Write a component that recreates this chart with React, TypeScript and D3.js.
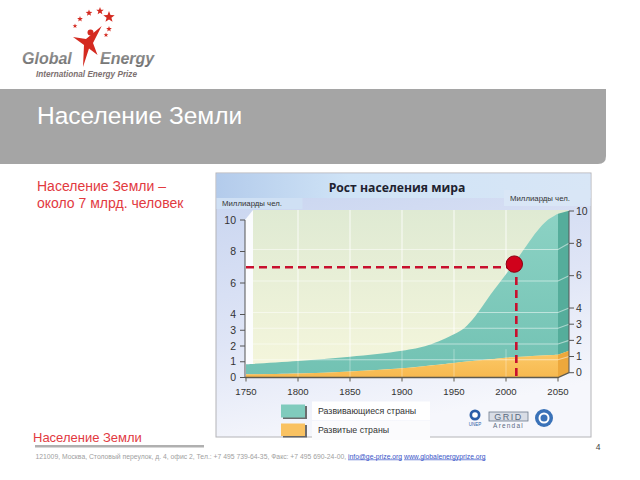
import React from 'react';
import * as d3 from 'd3';

// ---- data ----
const years = [1750, 1800, 1850, 1900, 1925, 1950, 1960, 1970, 1985, 2000, 2010, 2020, 2030, 2040, 2050];
const totalPopulation = [0.84, 1.05, 1.32, 1.7, 2.05, 2.75, 3.15, 3.85, 5.25, 6.55, 7.45, 8.4, 9.3, 10.0, 10.4];
const developedPopulation = [0.2, 0.25, 0.38, 0.58, 0.75, 0.92, 1.0, 1.06, 1.16, 1.26, 1.3, 1.34, 1.38, 1.42, 1.45];
const xTicks = [1750, 1800, 1850, 1900, 1950, 2000, 2050];
const yTicks = [0, 1, 2, 3, 4, 6, 8, 10];
const legendLabels = ['Развивающиеся страны', 'Развитые страны'];
const markerYear = 2008;
const markerValue = 7;
const markerDotValue = 7.2;

const slideTitle = 'Население Земли';
const noteLines = ['Население Земли –', 'около 7 млрд. человек'];
const chartTitle = 'Рост населения мира';
const unitLabel = 'Миллиарды чел.';
const footerText = '121009, Москва, Столовый переулок, д. 4, офис 2, Тел.: +7 495 739-64-35, Факс: +7 495 690-24-00, ';
const footerMail = 'info@ge-prize.org';
const footerWeb = 'www.globalenergyprize.org';

const logoStars = [
  { x: 80, y: 19, r: 3 },
  { x: 89, y: 13, r: 3.5 },
  { x: 100, y: 11, r: 4 },
  { x: 109, y: 17, r: 6 },
  { x: 109, y: 29, r: 3 },
  { x: 106, y: 35, r: 2.5 },
  { x: 75, y: 26, r: 2.5 },
];

function starPath(cx: number, cy: number, r: number) {
  const pts: [number, number][] = [];
  for (let i = 0; i < 10; i++) {
    const a = -Math.PI / 2 + (i * Math.PI) / 5;
    const rr = i % 2 === 0 ? r : r * 0.42;
    pts.push([cx + rr * Math.cos(a), cy + rr * Math.sin(a)]);
  }
  return 'M' + pts.map((p) => p.join(',')).join('L') + 'Z';
}

export default function App() {
  const font = "'Liberation Sans', Arial, sans-serif";
  const xF = d3.scaleLinear().domain([1750, 2050]).range([246, 558]);
  const yF = d3.scaleLinear().domain([0, 10]).range([377.5, 220]);
  const yR = d3.scaleLinear().domain([0, 10]).range([372.7, 211]);
  const wallLeft = 253;
  const wallRight = 568;
  const wallTop = 210;
  const depthX = 11;

  const rows = years.map((y, i) => ({ year: y, total: totalPopulation[i], dev: developedPopulation[i] }));
  const devArea = d3
    .area<any>()
    .x((d) => xF(d.year))
    .y0(() => yF(0))
    .y1((d) => yF(d.dev))
    .curve(d3.curveMonotoneX);
  const totArea = d3
    .area<any>()
    .x((d) => xF(d.year))
    .y0((d) => yF(d.dev))
    .y1((d) => yF(d.total))
    .curve(d3.curveCatmullRom.alpha(0.5));

  const last = rows[rows.length - 1];
  const xe = xF(last.year);
  const sideTeal = `M${xe},${yF(last.total)}L${xe + depthX},${yF(last.total) - 3}L${xe + depthX},${yF(last.dev) - 4}L${xe},${yF(last.dev)}Z`;
  const sideOrange = `M${xe},${yF(last.dev)}L${xe + depthX},${yF(last.dev) - 4}L${xe + depthX},${yF(0) - 5}L${xe},${yF(0)}Z`;

  const mx = xF(markerYear);
  const my = yF(markerValue);

  return (
    <svg width={640} height={480} style={{ position: 'absolute', left: 0, top: 0 }} fontFamily={font}>
      <defs>
        <linearGradient id="bg" x1="0" y1="0" x2="0.3" y2="1">
          <stop offset="0" stopColor="#c6d3ef" />
          <stop offset="0.6" stopColor="#dfe5f6" />
          <stop offset="1" stopColor="#f6f7fc" />
        </linearGradient>
        <linearGradient id="hdr" x1="0" y1="0" x2="1" y2="0">
          <stop offset="0" stopColor="#b3cbeb" />
          <stop offset="0.35" stopColor="#cfe3f6" />
          <stop offset="1" stopColor="#d8e6f6" />
        </linearGradient>
        <linearGradient id="wall" x1="0" y1="0" x2="0" y2="1">
          <stop offset="0" stopColor="#dfead3" />
          <stop offset="1" stopColor="#f5f6dc" />
        </linearGradient>
        <linearGradient id="teal" x1="0" y1="0" x2="0" y2="1">
          <stop offset="0" stopColor="#8cd2c4" />
          <stop offset="1" stopColor="#72c2b3" />
        </linearGradient>
        <linearGradient id="orange" x1="0" y1="0" x2="0" y2="1">
          <stop offset="0" stopColor="#fbc765" />
          <stop offset="1" stopColor="#f7b94f" />
        </linearGradient>
        <linearGradient id="gtext" x1="0" y1="0" x2="0" y2="1">
          <stop offset="0" stopColor="#9a9a9a" />
          <stop offset="1" stopColor="#6e6e6e" />
        </linearGradient>
      </defs>

      <rect x={0} y={0} width={640} height={480} fill="#ffffff" />

      {/* Logo */}
      {logoStars.map((s, i) => (
        <path key={i} d={starPath(s.x, s.y, s.r)} fill="#d42a20" />
      ))}
      <path d="M73,37L86,39L101.7,26L93,43L97.5,55L89,48.5L83,67L84,45Z" fill="#d42a20" />
      <circle cx={90.5} cy={32.5} r={3} fill="#d42a20" />
      <text x={22} y={64} fontSize={16} fontWeight="bold" fontStyle="italic" fill="url(#gtext)">Global</text>
      <text x={100} y={64} fontSize={16} fontWeight="bold" fontStyle="italic" fill="url(#gtext)">Energy</text>
      <text x={36} y={77} fontSize={8.2} fontWeight="bold" fontStyle="italic" fill="#7d7070">International Energy Prize</text>

      {/* Title band */}
      <path d="M0,89H606V156Q606,164 598,164H0Z" fill="#a5a5a5" />
      <text x={37} y={124} fontSize={24.5} fill="#ffffff">{slideTitle}</text>

      {/* Note text */}
      {noteLines.map((t, i) => (
        <text key={i} x={37} y={191 + i * 17} fontSize={14} fill="#e23a3f">{t}</text>
      ))}

      {/* Chart box */}
      <rect x={216} y={173} width={375} height={264} fill="url(#bg)" stroke="#b4b4b8" strokeWidth={1} />
      <rect x={216.5} y={173.5} width={374} height={24.5} fill="url(#hdr)" />
      <rect x={216.5} y={198} width={86} height={11} fill="#cfe0f4" />
      <rect x={504} y={190} width={86.5} height={16} fill="#d9e6f6" />
      <text x={397} y={191.5} textAnchor="middle" fontSize={12.2} fontWeight="bold" fill="#1e2230" fontFamily="'Open Sans', sans-serif">{chartTitle}</text>
      <text x={222} y={206} fontSize={7.8} fill="#333">{unitLabel}</text>
      <text x={510} y={201} fontSize={7.8} fill="#333">{unitLabel}</text>

      {/* 3D wall */}
      <rect x={wallLeft} y={wallTop} width={wallRight - wallLeft} height={yR(0) - wallTop} fill="url(#wall)" />
      <path d={`M245,${yF(10)}L${wallLeft},${wallTop}L${wallLeft},${yR(0)}L245,${yF(0)}Z`} fill="#ffffff" opacity={0.9} />
      {xTicks.slice(1, -1).map((t) => (
        <line key={t} x1={xF(t)} x2={xF(t)} y1={wallTop} y2={yF(0)} stroke="#ffffff" strokeOpacity={0.7} strokeWidth={1.2} />
      ))}

      {/* Areas */}
      <path d={totArea(rows) || ''} fill="url(#teal)" />
      <path d={devArea(rows) || ''} fill="url(#orange)" />
      <path d={sideTeal} fill="#55ad9b" />
      <path d={sideOrange} fill="#eda83c" />

      {/* horizontal gridlines */}
      {yTicks.filter((t) => t > 0 && t < 10).map((t) => (
        <path key={t} d={`M${wallLeft},${yF(t) - 2}L${xe},${yF(t) - 2}L${xe + depthX},${yR(t)}`} fill="none" stroke="#ffffff" strokeOpacity={0.5} strokeWidth={1.2} />
      ))}
      {xTicks.slice(1, -1).map((t) => (
        <line key={'v' + t} x1={xF(t)} x2={xF(t)} y1={yF(1.8)} y2={yF(0)} stroke="#ffffff" strokeOpacity={0.35} strokeWidth={1} />
      ))}

      {/* Left axis */}
      <line x1={245} x2={245} y1={yF(10)} y2={yF(0)} stroke="#555" strokeWidth={1} />
      {yTicks.map((t) => (
        <g key={'l' + t}>
          <line x1={240} x2={245} y1={yF(t)} y2={yF(t)} stroke="#555" />
          <text x={236} y={yF(t) + 3.6} textAnchor="end" fontSize={10.5} fill="#333">{t}</text>
        </g>
      ))}

      {/* Right axis */}
      <line x1={xe + depthX} x2={xe + depthX} y1={yR(10)} y2={yR(0)} stroke="#555" strokeWidth={1} />
      {yTicks.map((t) => (
        <g key={'r' + t}>
          <line x1={xe + depthX} x2={xe + depthX + 5} y1={yR(t)} y2={yR(t)} stroke="#555" />
          <text x={576} y={yR(t) + 3.6} fontSize={10.5} fill="#333">{t}</text>
        </g>
      ))}

      {/* X axis */}
      <path d={`M245,${yF(0)}L${xe},${yF(0)}L${xe + depthX},${yR(0)}`} fill="none" stroke="#5e5a4e" strokeWidth={1.3} />
      {xTicks.map((t) => (
        <g key={'x' + t}>
          <line x1={xF(t)} x2={xF(t)} y1={yF(0)} y2={yF(0) + 4} stroke="#5e5a4e" />
          <text x={xF(t)} y={395} textAnchor="middle" fontSize={9.6} fill="#333">{t}</text>
        </g>
      ))}

      {/* Marker */}
      <line x1={246} x2={mx} y1={my} y2={my} stroke="#c8102e" strokeWidth={2.6} strokeDasharray="8,5" />
      <line x1={mx + 2} x2={mx + 2} y1={yF(markerDotValue)} y2={yF(0)} stroke="#c8102e" strokeWidth={2.6} strokeDasharray="8,5" />
      <circle cx={mx} cy={yF(markerDotValue)} r={8.2} fill="#d0021b" stroke="#8a0010" strokeWidth={1} />

      {/* Legend */}
      <rect x={312} y={401.5} width={118} height={18.5} fill="#ffffff" />
      <rect x={312} y={421} width={118} height={19} fill="#fbfbfd" />
      <rect x={283} y={406} width={24} height={13} fill="#4a4a4a" opacity={0.8} />
      <rect x={281} y={404.5} width={24} height={13} fill="#80cbbd" />
      <rect x={283} y={425} width={24} height={12.5} fill="#4a4a4a" opacity={0.8} />
      <rect x={281} y={423.5} width={24} height={12.5} fill="#f9c262" />
      {legendLabels.map((t, i) => (
        <text key={t} x={318} y={414 + i * 19} fontSize={8.8} fill="#333">{t}</text>
      ))}

      {/* Logos */}
      <circle cx={475} cy={415} r={5.5} fill="#2a5da8" />
      <circle cx={475} cy={415} r={2.8} fill="#ffffff" />
      <text x={475} y={426} textAnchor="middle" fontSize={4.5} fill="#2a5da8">UNEP</text>
      <rect x={489} y={412} width={39} height={9} fill="#d9dde6" stroke="#6d7a8c" strokeWidth={0.8} />
      <text x={508.5} y={420} textAnchor="middle" fontSize={9} fill="#5a6a80" letterSpacing={1.5}>GRID</text>
      <text x={508.5} y={428} textAnchor="middle" fontSize={6.5} fill="#5a6a80" letterSpacing={1.2}>Arendal</text>
      <circle cx={544} cy={418} r={9} fill="#3a72b8" />
      <circle cx={544} cy={418} r={5.5} fill="#ffffff" />
      <circle cx={544} cy={418} r={3.5} fill="#3a72b8" />

      {/* Bottom */}
      <text x={33} y={442} fontSize={13} fill="#e23a3f">{slideTitle}</text>
      <rect x={35} y={445} width={169} height={2.5} fill="#b0b0b0" />
      <text x={35.5} y={458.5} fontSize={6.8} fill="#a0a0a0">
        {footerText}
        <tspan fill="#3a55c8" textDecoration="underline">{footerMail}</tspan>
        <tspan>  </tspan>
        <tspan fill="#3a55c8" textDecoration="underline">{footerWeb}</tspan>
      </text>
      <text x={598} y={450} fontSize={8.5} fill="#444" textAnchor="middle">4</text>
    </svg>
  );
}
